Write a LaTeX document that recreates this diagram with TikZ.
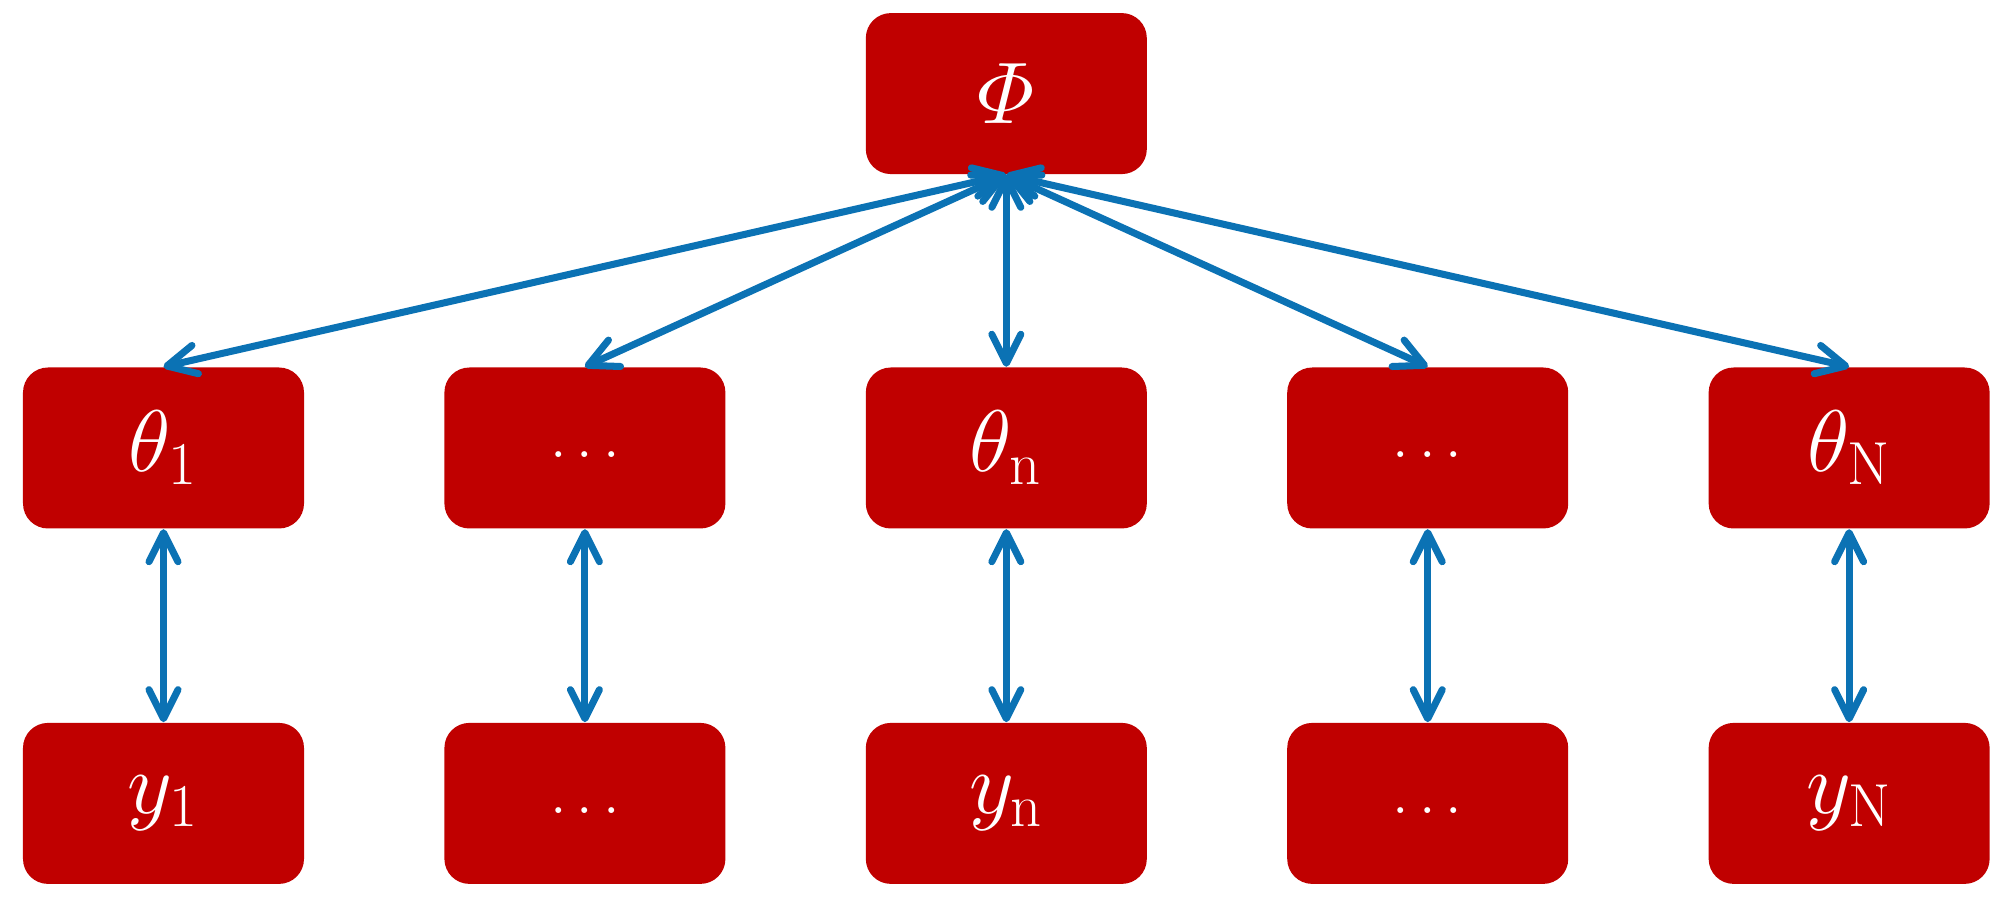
\documentclass[tikz,border=0pt]{standalone}
\usepackage{amsmath}
\usetikzlibrary{positioning,arrows.meta}
\definecolor{boxred}{RGB}{192,0,0}
\definecolor{linkblue}{RGB}{11,114,180}
\tikzset{
  varbox/.style={rectangle, rounded corners=0.25cm, fill=boxred, text=white,
    minimum width=2.81cm, minimum height=1.61cm, inner sep=0pt,
    font=\fontsize{24}{28}\selectfont},
  gapbox/.style={varbox, font=\fontsize{16}{20}\selectfont, text height=2mm, text depth=0pt},
  link/.style={draw=linkblue, line width=2pt, >={Straight Barb[length=2.9mm,width=2.9mm,round]}, <->}
}

\begin{document}
\begin{tikzpicture}
  \useasboundingbox (0,0) rectangle (19.98,8.98);

  % parameters
  \node (T1) [varbox] at (1.635,4.5) {$\theta_1$};
  \node (T2) [gapbox, right=1.39cm of T1] {$\ldots$};
  \node (Tn) [varbox, right=1.39cm of T2] {$\theta_\mathrm{n}$};
  \node (T4) [gapbox, right=1.39cm of Tn] {$\ldots$};
  \node (TN) [varbox, right=1.39cm of T4] {$\theta_\mathrm{N}$};

  % hyperparameter
  \node (P) [varbox, above=1.92cm of Tn] {$\varPhi$};

  % data
  \node (Y1) [varbox, below=1.93cm of T1] {$y_1$};
  \node (Y2) [gapbox, below=1.93cm of T2] {$\ldots$};
  \node (Yn) [varbox, below=1.93cm of Tn] {$y_\mathrm{n}$};
  \node (Y4) [gapbox, below=1.93cm of T4] {$\ldots$};
  \node (YN) [varbox, below=1.93cm of TN] {$y_\mathrm{N}$};

  \foreach \t in {T1,T2,Tn,T4,TN}
    \draw [link] (P.south) -- (\t.north);
  \foreach \t/\y in {T1/Y1,T2/Y2,Tn/Yn,T4/Y4,TN/YN}
    \draw [link] (\t.south) -- (\y.north);
\end{tikzpicture}
\end{document}
